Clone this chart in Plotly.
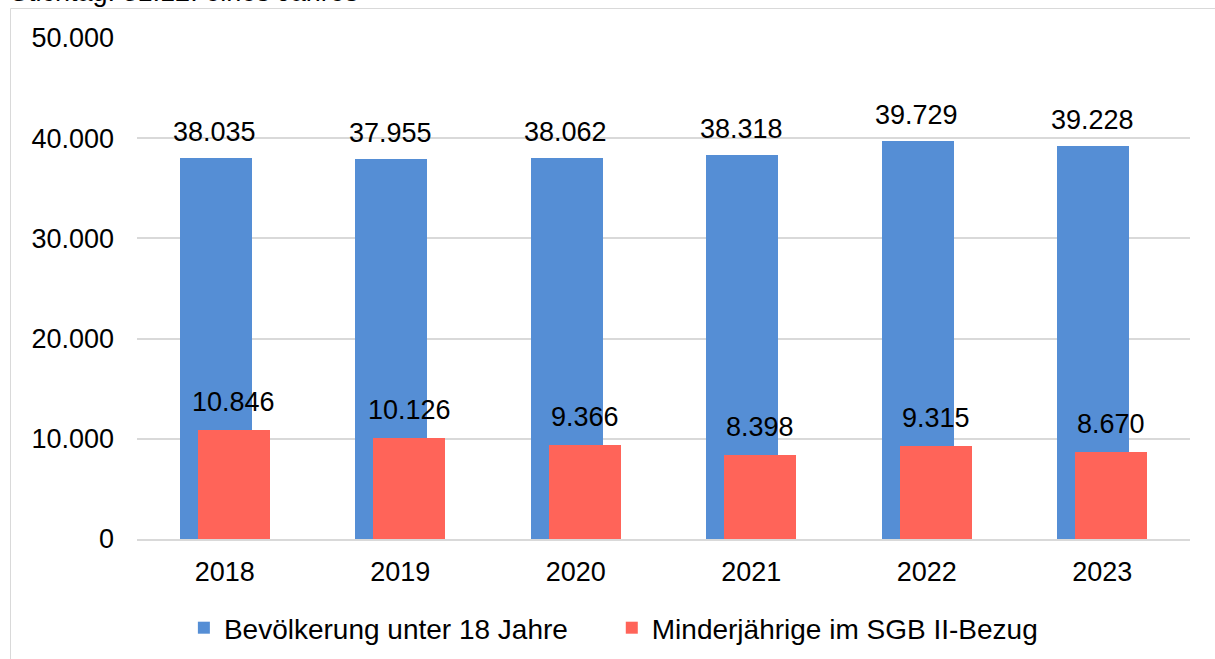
import plotly.graph_objects as go

years = ["2018", "2019", "2020", "2021", "2022", "2023"]
bevoelkerung = [38035, 37955, 38062, 38318, 39729, 39228]
minderjaehrige = [10846, 10126, 9366, 8398, 9315, 8670]
y_ticks = [0, 10000, 20000, 30000, 40000, 50000]
y_ticktext = ["0", "10.000", "20.000", "30.000", "40.000", "50.000"]

blue = "#558ED5"
red = "#FF6459"
FONT = "Liberation Sans, Arial, sans-serif"
FS = 27

def de(v):
    return f"{v:,}".replace(",", ".")

fig = go.Figure()
fig.add_trace(go.Bar(
    x=years, y=bevoelkerung, name="Bevölkerung unter 18 Jahre" + "\u00a0" * 5,
    marker=dict(color=blue, line=dict(width=0)),
    width=0.41, offset=-0.256, hoverinfo="skip",
))
fig.add_trace(go.Bar(
    x=years, y=minderjaehrige, name="Minderjährige im SGB II-Bezug",
    marker=dict(color=red, line=dict(width=0)),
    width=0.41, offset=-0.154, hoverinfo="skip",
))

annotations = []
for i, v in enumerate(bevoelkerung):
    annotations.append(dict(x=i, y=v, xref="x", yref="y", text=de(v), showarrow=False,
                            xshift=-10, yshift=9, yanchor="bottom",
                            font=dict(size=FS, color="#000000", family=FONT)))
for i, v in enumerate(minderjaehrige):
    annotations.append(dict(x=i, y=v, xref="x", yref="y", text=de(v), showarrow=False,
                            xshift=9, yshift=11, yanchor="bottom",
                            font=dict(size=FS, color="#000000", family=FONT)))
annotations.append(dict(x=(8 - 137) / 1053, y=(539 - 9) / 501, xref="paper", yref="paper",
                        text="Stichtag: 31.12. eines Jahres", showarrow=False,
                        xanchor="left", yanchor="bottom",
                        font=dict(size=FS, color="#000000", family=FONT)))

fig.update_layout(
    width=1215, height=659,
    margin=dict(l=137, r=25, t=38, b=120),
    paper_bgcolor="white", plot_bgcolor="white",
    barmode="overlay",
    font=dict(family=FONT, size=FS, color="#000000"),
    showlegend=True,
    legend=dict(orientation="h", x=0.4524, xanchor="center",
                yref="container", y=(659 - 628) / 659, yanchor="middle",
                font=dict(size=28), itemwidth=30, tracegroupgap=0),
    annotations=annotations,
    shapes=[dict(type="rect", xref="paper", yref="paper",
                 x0=(10.5 - 137) / 1053, x1=(1230 - 137) / 1053,
                 y0=(539 - 700) / 501, y1=(539 - 8.5) / 501,
                 line=dict(color="#D9D9D9", width=1), fillcolor="rgba(0,0,0,0)", layer="below")],
    bargap=0,
)
fig.update_xaxes(type="category", range=[-0.5, 5.5], showgrid=False, showline=True,
                 linecolor="#D9D9D9", linewidth=2, automargin=False,
                 ticks="", tickfont=dict(size=FS), ticklabelstandoff=8)
fig.update_yaxes(range=[0, 50000], tickvals=y_ticks, ticktext=y_ticktext, showgrid=True,
                 gridcolor="#D9D9D9", gridwidth=2, zeroline=False, showline=False,
                 automargin=False, tickfont=dict(size=FS), ticklabelstandoff=22)

fig.write_html("out.html", config={"displayModeBar": False},
               post_script="document.body.style.margin='0px';")
